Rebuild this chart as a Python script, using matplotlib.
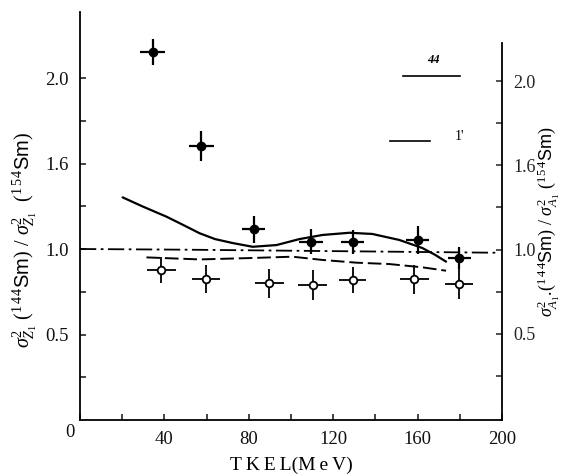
import matplotlib
matplotlib.use("Agg")
import matplotlib.pyplot as plt
from matplotlib.ticker import FixedLocator, FixedFormatter, MultipleLocator

plt.rcParams['font.family'] = ['Liberation Serif', 'DejaVu Serif']
plt.rcParams['mathtext.fontset'] = 'custom'
plt.rcParams['mathtext.rm'] = 'Liberation Serif'
plt.rcParams['mathtext.it'] = 'Liberation Serif:italic'
plt.rcParams['mathtext.bf'] = 'Liberation Serif:bold'
plt.rcParams['mathtext.sf'] = 'Liberation Sans'

# ---- data ----
full_x = [34.4, 57.5, 82.3, 109.5, 129.2, 160.0, 179.7]
full_y = [2.154, 1.604, 1.115, 1.043, 1.039, 1.053, 0.946]
full_yerr = [0.076, 0.088, 0.078, 0.073, 0.070, 0.082, 0.065]
full_xerr = [5.9, 5.9, 5.3, 5.5, 5.5, 5.5, 5.5]

open_x = [38.6, 59.6, 89.8, 110.3, 129.2, 158.4, 179.7]
open_y = [0.877, 0.825, 0.799, 0.789, 0.819, 0.823, 0.795]
open_yerr = [0.078, 0.082, 0.085, 0.090, 0.075, 0.085, 0.090]
open_xerr = [7.0, 6.7, 6.8, 6.8, 6.5, 6.8, 6.5]

solid_x = [20.2, 30.0, 41.0, 49.0, 56.7, 64.0, 72.3, 81.8, 93.1, 104.0, 114.9, 127.7,
           138.5, 151.3, 162.2, 168.0, 173.5]
solid_y = [1.302, 1.247, 1.189, 1.140, 1.092, 1.058, 1.035, 1.013, 1.023, 1.058, 1.082,
           1.095, 1.088, 1.053, 1.006, 0.968, 0.926]

dashdot_x = [0.0, 50.0, 100.0, 150.0, 198.6]
dashdot_y = [1.000, 0.996, 0.990, 0.984, 0.978]

dashed_x = [31.5, 56.7, 80.4, 100.7, 114.9, 131.0, 146.6, 162.2, 173.5]
dashed_y = [0.951, 0.939, 0.947, 0.955, 0.936, 0.920, 0.912, 0.893, 0.873]

xticks = [40, 80, 120, 160, 200]
xtick_labels = ['40', '80', '120', '160', '200']
yticks = [0.5, 1.0, 1.5, 2.0]
ytick_labels = ['0.5', '1.0', '1.6', '2.0']

fig = plt.figure(figsize=(5.63, 4.76), dpi=100)
ax = fig.add_axes([80/563, 56/476, 422/563, 408/476])
ax.set_xlim(0, 200)
ax.set_ylim(0, 2.386)

for s in ['top', 'right']:
    ax.spines[s].set_visible(False)
for s in ['left', 'bottom']:
    ax.spines[s].set_linewidth(1.3)

ax.xaxis.set_major_locator(FixedLocator(xticks))
ax.xaxis.set_major_formatter(FixedFormatter(xtick_labels))
ax.xaxis.set_minor_locator(MultipleLocator(20))
ax.yaxis.set_major_locator(FixedLocator(yticks))
ax.yaxis.set_major_formatter(FixedFormatter(ytick_labels))
ax.yaxis.set_minor_locator(FixedLocator([0.25, 0.75, 1.25, 1.75]))
ax.tick_params(which='both', direction='in', length=4, width=1.1, labelsize=13.5, pad=8,
               colors='#111111')
ax.tick_params(axis='y', which='both', right=False)
ax.tick_params(axis='x', which='both', top=False)
ax.text(-0.024, -0.03, '0', transform=ax.transAxes, ha='center', va='center',
        fontsize=13.5, color='#111111')

# right axis
ax2 = ax.twinx()
ax2.set_ylim(-0.012, 2.41)
for s in ['top', 'left', 'bottom']:
    ax2.spines[s].set_visible(False)
ax2.spines['right'].set_linewidth(1.3)
ax2.spines['right'].set_bounds(-0.012, 2.225)
ax2.yaxis.set_major_locator(FixedLocator(yticks))
ax2.yaxis.set_major_formatter(FixedFormatter(ytick_labels))
ax2.yaxis.set_minor_locator(FixedLocator([0.25, 0.75, 1.25, 1.75]))
ax2.tick_params(which='both', direction='in', length=4, width=1.1, labelsize=13, pad=8,
                colors='#222222')

# curves
ax.plot(solid_x, solid_y, color='black', lw=1.6, solid_capstyle='round')
ax.plot(dashdot_x, dashdot_y, color='black', lw=1.3, linestyle=(0, (9, 2.5, 1.5, 2.5)))
ax.plot(dashed_x, dashed_y, color='black', lw=1.4, linestyle=(0, (7, 2.5)))

# data points
ax.errorbar(full_x, full_y, yerr=full_yerr, xerr=full_xerr, fmt='o', color='black',
            ms=6, elinewidth=1.6, capsize=0, zorder=5)
ax.errorbar(open_x, open_y, yerr=open_yerr, xerr=open_xerr, fmt='o', color='black',
            mfc='white', mec='black', mew=1.3, ms=5.5, elinewidth=1.3, capsize=0, zorder=5)

# legend remnants
ax.plot([153, 180], [2.01, 2.01], color='black', lw=1.2, clip_on=False)
ax.text(167.5, 2.07, '44', fontsize=9, fontweight='bold', style='italic', ha='center', va='bottom')
ax.plot([147, 166], [1.63, 1.63], color='black', lw=1.2, clip_on=False)
ax.text(180, 1.66, "1'", fontsize=10, ha='center', va='center')

ax.set_xlabel('T\u2009K\u2009E\u2009L(M\u2009e\u2009V)', fontsize=14, labelpad=6)

fig.text(25/563, 1 - 240/476,
         r'$\sigma^2_{Z_1}$ ($^{1\,4\,4}\mathsf{Sm}$) / $\sigma^2_{Z_1}$  ($^{1\,5\,4}\mathsf{Sm}$)',
         rotation=90, ha='center', va='center', fontsize=14.5)
fig.text(549/563, 1 - 222/476,
         r'$\sigma^2_{A_1}$.($^{1\,4\,4}\mathsf{Sm}$) / $\sigma^2_{A_1}$ ($^{1\,5\,4}\mathsf{Sm}$)',
         rotation=90, ha='center', va='center', fontsize=13)

fig.savefig('out.png', dpi=100)
